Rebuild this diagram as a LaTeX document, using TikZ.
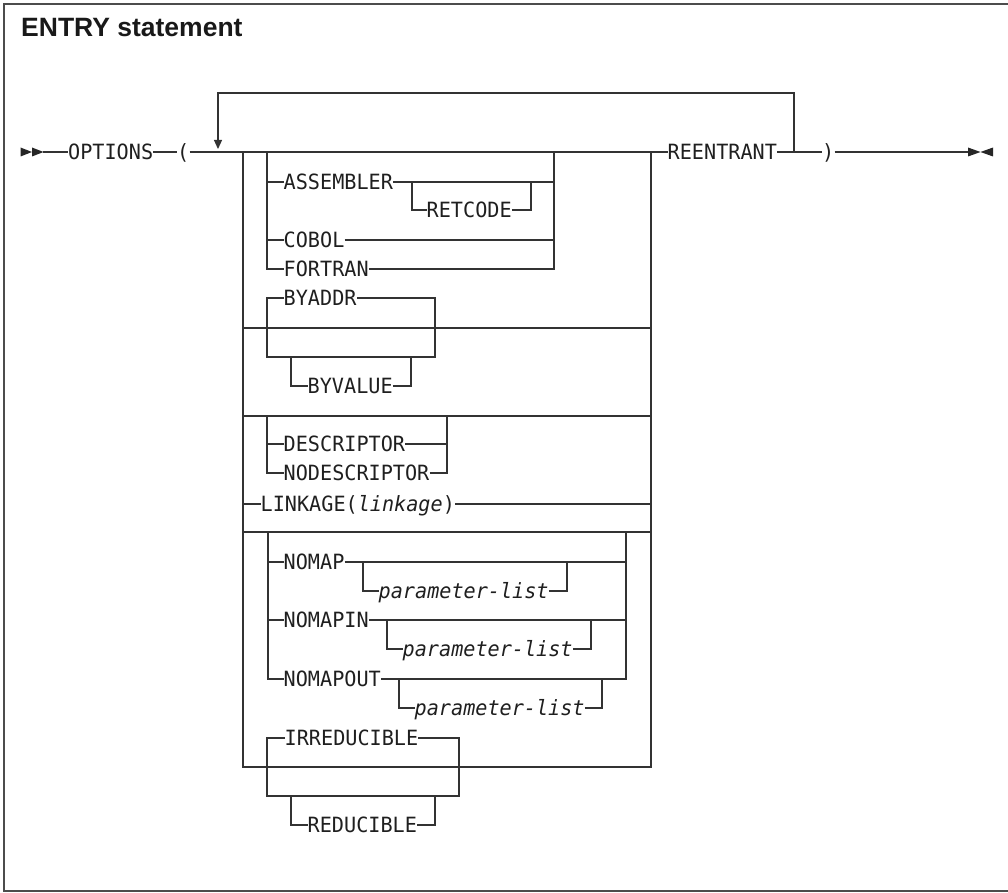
\documentclass[tikz,border=0pt]{standalone}
\usepackage{fontspec}
\setmainfont{Liberation Sans}
\newfontfamily\synfont[FakeStretch=0.96,ItalicFont={DejaVu Sans Mono Oblique}]{DejaVu Sans Mono}
\usetikzlibrary{arrows.meta}
\begin{document}
\begin{tikzpicture}[x=1pt,y=-1pt,
  rr/.style={line width=1.2pt, draw=black!80},
  frame/.style={line width=1.5pt, draw=black!70},
  tipfill/.style={fill=black!85},
  lbl/.style={anchor=west, inner sep=0pt, text=black!88,
    font={\synfont\fontsize{21pt}{24pt}\selectfont}, text height=15.3pt, text depth=0pt},
  ttl/.style={anchor=base west, inner sep=0pt, text=black!90,
    font={\bfseries\fontsize{26.5pt}{30pt}\selectfont}}]
\useasboundingbox (0,0) rectangle (1008,893);
\draw[frame] (1008,4) -- (4,4) -- (4,891) -- (1008,891);
\node[ttl] (title) at (21,37) {ENTRY statement};

% main line
\node[lbl] (opt) at (68,152) {OPTIONS};
\node[lbl] (lp) at (177,152) {(};
\node[lbl] (reent) at (667.5,152) {REENTRANT};
\node[lbl] (rp) at (822,152) {)};
\coordinate (st) at (43,152);
\coordinate (en) at (968,152);
\fill[tipfill] (20.5,147.5) -- (32,152) -- (20.5,156.5) -- cycle;
\fill[tipfill] (32,147.5) -- (43.5,152) -- (32,156.5) -- cycle;
\fill[tipfill] (968,147.5) -- (980.5,152) -- (968,156.5) -- cycle;
\fill[tipfill] (993,147.5) -- (980.5,152) -- (993,156.5) -- cycle;
\draw[rr] (st) -- (opt.west);
\draw[rr] (opt.east) -- (lp.west);
\draw[rr] (lp.east) -- (reent.west);
\draw[rr] (reent.east) -- (rp.west);
\draw[rr] (rp.east) -- (en);

% repeat loop
\coordinate (lpR) at (794,152);
\coordinate (lpL) at (218,149);
\draw[rr,-{Triangle[length=9pt,width=8pt]}] (lpR) |- (218,93) -- (lpL);

% outer group rails and separators
\draw[rr] (243,152) -- (243,767) -- (651,767) -- (651,152);
\draw[rr] (243,328) -- (651,328);
\draw[rr] (243,416) -- (651,416);
\draw[rr] (243,532) -- (651,532);

% group 1
\node[lbl] (asm) at (283.5,182) {ASSEMBLER};
\node[lbl] (ret) at (426.5,210) {RETCODE};
\node[lbl] (cob) at (283.5,240) {COBOL};
\node[lbl] (fort) at (283.5,269) {FORTRAN};
\draw[rr] (267,152) |- (fort.west);
\draw[rr] (267,182) -- (asm.west);
\draw[rr] (267,240) -- (cob.west);
\draw[rr] (asm.east) -- (554,182);
\draw[rr] (cob.east) -- (554,240);
\draw[rr] (fort.east) -| (554,152);
\draw[rr] (412,182) |- (ret.west);
\draw[rr] (ret.east) -| (531,182);

% group 2
\node[lbl] (byaddr) at (283.5,298) {BYADDR};
\node[lbl] (byval) at (307.5,386) {BYVALUE};
\draw[rr] (byaddr.west) -| (267,357) -| (435,298) -- (byaddr.east);
\draw[rr] (291,357) |- (byval.west);
\draw[rr] (byval.east) -| (411,357);

% group 3
\node[lbl] (desc) at (283.5,444) {DESCRIPTOR};
\node[lbl] (nodesc) at (283.5,473) {NODESCRIPTOR};
\draw[rr] (267,416) |- (nodesc.west);
\draw[rr] (267,444) -- (desc.west);
\draw[rr] (desc.east) -- (447,444);
\draw[rr] (nodesc.east) -| (447,416);

% linkage
\node[lbl] (link) at (260.5,504) {LINKAGE({\itshape linkage})};
\draw[rr] (243,504) -- (link.west);
\draw[rr] (link.east) -- (651,504);

% group 4
\node[lbl] (nomap) at (283.5,562) {NOMAP};
\node[lbl] (pla) at (378.5,591) {\itshape parameter-list};
\node[lbl] (nomapin) at (283.5,620) {NOMAPIN};
\node[lbl] (plb) at (402.5,649) {\itshape parameter-list};
\node[lbl] (nomapout) at (283.5,679) {NOMAPOUT};
\node[lbl] (plc) at (414.5,708) {\itshape parameter-list};
\draw[rr] (268,532) |- (nomapout.west);
\draw[rr] (268,562) -- (nomap.west);
\draw[rr] (268,620) -- (nomapin.west);
\draw[rr] (nomap.east) -- (626,562);
\draw[rr] (nomapin.east) -- (626,620);
\draw[rr] (nomapout.east) -| (626,532);
\draw[rr] (363,562) |- (pla.west);
\draw[rr] (pla.east) -| (567,562);
\draw[rr] (387,620) |- (plb.west);
\draw[rr] (plb.east) -| (591,620);
\draw[rr] (399,679) |- (plc.west);
\draw[rr] (plc.east) -| (602,679);

% group 5
\node[lbl] (irr) at (284.5,738) {IRREDUCIBLE};
\node[lbl] (red) at (307.5,825) {REDUCIBLE};
\draw[rr] (irr.west) -| (267,796) -| (459,738) -- (irr.east);
\draw[rr] (291,796) |- (red.west);
\draw[rr] (red.east) -| (435,796);
\end{tikzpicture}
\end{document}
